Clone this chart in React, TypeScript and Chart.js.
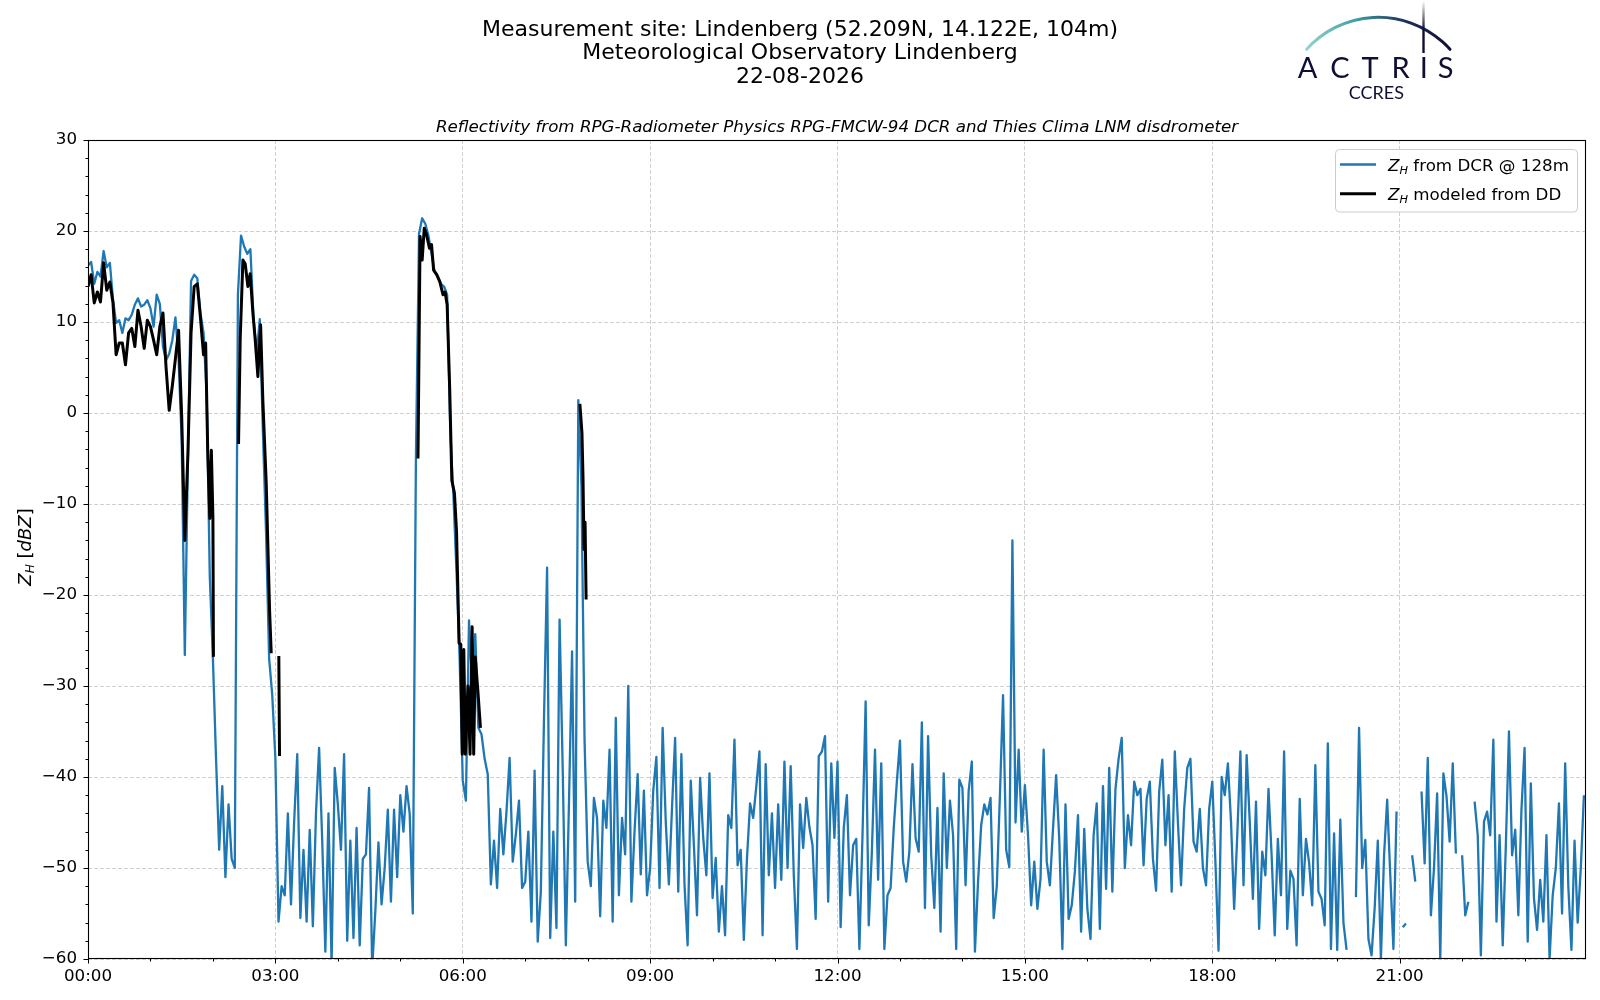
import React, { useEffect, useRef } from 'react';
import { Chart, registerables } from 'chart.js';

Chart.register(...registerables);

// ---------- data ----------
// DCR reflectivity @128m, one value every 3 minutes starting 00:00 (dBZ), null = no data
const DCR_STEP_MIN = 3;
const dcr00to03 = [
  16.2, 16.6, 14.2, 15.5, 15, 17.8, 16, 16.5, 12.5, 9.9, 10.2, 8.8, 10.4, 10.2, 10.8, 11.9, 12.6, 11.7, 11.9, 12.4,
  11.5, 9.5, 13, 12, 7.3, 5.8, 6.5, 8, 10.5, 6, -3, -26.6, -5, 14.5, 15.2, 14.8, 11, 8.8, 2, -18,
  -27, -38, -48, -41, -51, -43, -49, -50, 13, 19.5, 18.3, 17.5, 18, 10.5, 6.5, 10.3, -2, -13, -27, -31,
];
const dcr03to06 = [
  -38, -55.9, -52, -53, -44, -54, -45, -37.5, -55.5, -48, -55.9, -45.8, -56.4, -44, -36.8, -47, -59.2, -44, -60.5, -39,
  -43, -48, -37.5, -58, -47, -57.7, -45.6, -58.5, -49, -48.5, -41.2, -61, -54.8, -47.2, -54, -50, -43.6, -53.7, -43.6, -51,
  -42, -46, -41, -44, -55, -5, 19.7, 21.4, 20.8, 19.5, 17.5, 15.5, 15, 14.2, 13.9, 13, -2, -9, -17.5, -27,
];
const dcr06to09 = [
  -40.4, -42.6, -22.8, -30, -24.3, -34.6, -35.3, -38, -39.7, -51.8, -47, -52.2, -43.5, -48.5, -43.8, -37.9, -49.3, -46.3, -42.6, -52.2,
  -51.5, -46, -55.9, -39.3, -58.1, -52.6, -33.8, -17, -57.7, -46, -56.6, -22.7, -39, -58.5, -43, -26.2, -53.7, 1.4, -8, -36,
  -49.3, -52, -42.3, -44.5, -55.3, -42.6, -45.6, -37, -55.9, -33.5, -53, -44.5, -48.5, -30, -53.7, -46, -39.7, -50.7, -41.5, -53,
];
const dcr09to12 = [
  -50, -41.5, -37.8, -52.2, -34.6, -44.9, -51.8, -43.4, -35.7, -52.6, -37.5, -51.8, -58.5, -40.4, -47.4, -55.2, -40.1, -46.7, -50.8, -39.6,
  -53.3, -48.9, -57, -52, -57.4, -44.2, -45.6, -35.9, -49.7, -48, -57.9, -49, -42.9, -44.5, -41, -37.2, -57.4, -38.6, -50.8, -44,
  -52.2, -43, -51.3, -38.3, -50, -38.8, -50.8, -58.9, -43, -47.8, -42.3, -45.5, -47.5, -55.6, -37.7, -37.2, -35.5, -53.7, -38.5, -46.7,
];
const dcr12to15 = [
  -38.3, -56.5, -45.6, -42, -53, -47.5, -46.8, -58.9, -46.4, -31.7, -56.3, -48.2, -37, -51.3, -38.5, -58.9, -53, -52.2, -45.6, -40.5,
  -36, -49.3, -51.5, -48.2, -38.6, -46.7, -48.2, -34, -54.4, -35.5, -48.6, -54.4, -43.4, -57, -39.6, -50, -42.6, -46.4, -58.9, -40.3,
  -41.2, -51.9, -41.5, -38.3, -59.2, -51.5, -45.3, -43, -44.1, -42.3, -55.5, -52, -42, -31, -48, -49.9, -14, -45, -37, -46,
];
const dcr15to18 = [
  -40.9, -46.4, -54.1, -49.3, -54.5, -51.2, -37, -49.3, -51.9, -45.7, -39.8, -46.8, -58.9, -43, -55.6, -54.1, -50.4, -44.2, -57, -45.7,
  -54.5, -57.8, -46.4, -42.9, -56.7, -41, -52.3, -39, -52.6, -41.3, -38, -35.7, -50, -44.2, -47.5, -40.5, -42, -41.3, -49.7, -42.4,
  -40.5, -49, -52.5, -41.6, -38.1, -47.5, -42, -52.6, -37.2, -45, -51.9, -43.5, -39, -38, -47.1, -48.2, -43.5, -50, -51.9, -43.5,
];
const dcr18to21 = [
  -40.5, -49.3, -59.1, -40, -42, -38.5, -44.9, -54.5, -46.4, -37.2, -51.9, -37.6, -44.9, -53.4, -42.7, -56.7, -48.2, -50.8, -41.3, -48.6,
  -57.4, -46.8, -53, -37.2, -56.7, -50.3, -51.2, -58.5, -42.4, -53, -46.8, -49.4, -54.1, -38.7, -52.6, -53.4, -56.3, -36.3, -58.9, -46.2,
  -59, -44.7, -56, -59, null, null, -53.2, -34.6, -50, -46.9, -57.8, -59.6, -54.4, -47, -60, -48.6, -42.5, -50.8, -58.9, -43.8,
];
const dcr21to24 = [
  null, -56.5, -56.1, null, -48.6, -51.5, null, -41.6, -49.5, -37.9, -55.2, -50, -41.8, -60, -39.6, -42.1, -47.1, -38.5, -48.4, null,
  -48.6, -55.2, -53.7, null, -42.7, -46.4, -59.6, -44.9, -43.8, -46.4, -35.9, -55.9, -46.4, -58.5, -47.5, -35, -48.6, -45.8, -55.2, -43.6,
  -36.8, -58.1, -40.7, -53.3, -56.8, -51.3, -55.9, -46.4, -60, -53, -50, -42.9, -55, -38.5, -52, -59, -47, -56, -50, -42,
];

// Disdrometer-modelled reflectivity: times in minutes after 00:00, null = gap
const ddTimes = [
  0, 3, 6, 9, 12, 15, 18, 21, 24, 27, 30, 33, 36, 39, 42, 45, 48, 51, 54, 57,
  60, 63, 66, 69, 72, 75, 78, 81, 84, 87, 90, 93, 96, 99, 102, 105, 108, 111, 113, 115, 117, 118.5, 120, 120.5,
  121,
  144.6, 146.2, 148.8, 151, 153.6, 155.8, 158.4, 160.6, 163.2, 165.8, 168, 171.2, 174.4, 176,
  177,
  183.3, 184,
  185,
  317, 319, 321, 323, 325, 328, 330, 332, 335, 338, 341, 343, 345, 347.5, 349.5, 352, 354, 356.5, 358,
  359.5, 361, 362.5, 365, 367, 369, 370.5, 372, 374.5, 377,
  378,
  472.5, 474.5, 475.5, 476.5, 477.5, 478.5,
];
const ddValues = [
  13.9, 15.2, 12.1, 13.3, 12.2, 16.5, 13.5, 14.4, 12.1, 6.4, 7.7, 7.7, 5.3, 8.8, 9.3, 7.3, 11.3, 9.5, 7.1, 10.2,
  9.5, 8, 6.4, 9.5, 11, 5, 0.3, 3, 6, 9.1, -0.4, -14, -4.4, 8.8, 13.9, 14.2, 10.5, 6.4, 7.7, -4.1, -11.6, -4.1, -11.6, -26.8,
  null,
  -3.4, 8.1, 16.8, 16.4, 13.9, 15.3, 11, 8.1, 4, 9.7, 1.3, -7.7, -21.6, -26.4,
  null,
  -26.7, -37.7,
  null,
  -5, 19.4, 16.8, 20.3, 19.7, 18.1, 18.5, 15.7, 15.2, 14.4, 13, 13.3, 11.9, 2.5, -7.4, -8.8, -13, -25.3, -25.4,
  -37.5, -26, -37.5, -30, -37.5, -23.5, -37.5, -26.8, -30.5, -34.6,
  null,
  1, -2.2, -7, -15, -12, -20.5,
];

const xMajorTicks = [0, 180, 360, 540, 720, 900, 1080, 1260];
const xTickLabels = ['00:00', '03:00', '06:00', '09:00', '12:00', '15:00', '18:00', '21:00'];
const xMinorTicks = [60, 120, 240, 300, 420, 480, 600, 660, 780, 840, 960, 1020, 1140, 1200, 1320, 1380];
const yMajorTicks = [-60, -50, -40, -30, -20, -10, 0, 10, 20, 30];
const yMinorStep = 2;

const titleLines = [
  'Measurement site: Lindenberg (52.209N, 14.122E, 104m)',
  'Meteorological Observatory Lindenberg',
  '22-08-2026',
];
const subtitleText = 'Reflectivity from RPG-Radiometer Physics RPG-FMCW-94 DCR and Thies Clima LNM disdrometer';
const legendRows = [
  { color: '#1f77b4', width: 2.3, rest: ' from DCR @ 128m' },
  { color: '#000000', width: 3, rest: ' modeled from DD' },
];

// ---------- style ----------
const FONT = "'DejaVu Sans', sans-serif";
const BLUE = '#1f77b4';
const GRID = '#d0d0d0';

type Part = { t: string; it?: boolean; sub?: boolean };

function drawRich(ctx: CanvasRenderingContext2D, parts: Part[], x: number, y: number, size: number, align: 'left' | 'center') {
  const segs = parts.map((p) => {
    const s = p.sub ? size * 0.68 : size;
    const font = `${p.it ? 'italic ' : ''}${s}px ${FONT}`;
    ctx.font = font;
    return { t: p.t, font, w: ctx.measureText(p.t).width, dy: p.sub ? size * 0.18 : 0 };
  });
  const total = segs.reduce((a, s) => a + s.w, 0);
  let cx = align === 'center' ? x - total / 2 : x;
  ctx.textAlign = 'left';
  ctx.textBaseline = 'alphabetic';
  for (const s of segs) {
    ctx.font = s.font;
    ctx.fillText(s.t, cx, y + s.dy);
    cx += s.w;
  }
}

const decorPlugin = {
  id: 'decor',
  afterDraw(chart: any) {
    const { ctx, chartArea: a, scales } = chart;
    const xs = scales.x;
    const ys = scales.y;
    ctx.save();

    // frame
    ctx.strokeStyle = '#000';
    ctx.lineWidth = 1.1;
    const L = Math.round(a.left) + 0.5, R = Math.round(a.right) - 0.5;
    const T = Math.round(a.top) + 0.5, B = Math.round(a.bottom) - 0.5;
    ctx.strokeRect(L, T, R - L, B - T);

    // ticks
    ctx.lineWidth = 1;
    ctx.beginPath();
    for (const v of yMajorTicks) {
      const p = Math.round(ys.getPixelForValue(v)) + 0.5;
      ctx.moveTo(L - 5, p); ctx.lineTo(L, p);
    }
    for (let v = -60; v <= 30; v += yMinorStep) {
      if (v % 10 === 0) continue;
      const p = Math.round(ys.getPixelForValue(v)) + 0.5;
      ctx.moveTo(L - 3, p); ctx.lineTo(L, p);
    }
    for (const v of xMajorTicks) {
      const p = Math.round(xs.getPixelForValue(v)) + 0.5;
      ctx.moveTo(p, B); ctx.lineTo(p, B + 5);
    }
    for (const v of xMinorTicks) {
      const p = Math.round(xs.getPixelForValue(v)) + 0.5;
      ctx.moveTo(p, B); ctx.lineTo(p, B + 3);
    }
    ctx.stroke();

    // titles
    ctx.fillStyle = '#000';
    ctx.textAlign = 'center';
    ctx.textBaseline = 'alphabetic';
    ctx.font = `22px ${FONT}`;
    const base = [36, 59.3, 82.7];
    titleLines.forEach((t, i) => ctx.fillText(t, 800, base[i]));
    ctx.font = `italic 16.7px ${FONT}`;
    ctx.fillText(subtitleText, (a.left + a.right) / 2, 131.5);

    // y label
    ctx.save();
    ctx.translate(31, 547);
    ctx.rotate(-Math.PI / 2);
    drawRich(ctx, [{ t: 'Z', it: true }, { t: 'H', it: true, sub: true }, { t: ' [' }, { t: 'dBZ', it: true }, { t: ']' }], 0, 0, 18, 'center');
    ctx.restore();

    // legend
    const bx = 1335.5, by = 149.5, bw = 242, bh = 62.5, r = 4;
    ctx.beginPath();
    ctx.moveTo(bx + r, by);
    ctx.lineTo(bx + bw - r, by);
    ctx.quadraticCurveTo(bx + bw, by, bx + bw, by + r);
    ctx.lineTo(bx + bw, by + bh - r);
    ctx.quadraticCurveTo(bx + bw, by + bh, bx + bw - r, by + bh);
    ctx.lineTo(bx + r, by + bh);
    ctx.quadraticCurveTo(bx, by + bh, bx, by + bh - r);
    ctx.lineTo(bx, by + r);
    ctx.quadraticCurveTo(bx, by, bx + r, by);
    ctx.closePath();
    ctx.fillStyle = 'rgba(255,255,255,0.8)';
    ctx.fill();
    ctx.strokeStyle = '#cccccc';
    ctx.lineWidth = 1;
    ctx.stroke();
    const rowLineY = [164.5, 193.8];
    const rowBase = [170.7, 199.6];
    legendRows.forEach((row, i) => {
      ctx.strokeStyle = row.color;
      ctx.lineWidth = row.width;
      ctx.beginPath();
      ctx.moveTo(1340, rowLineY[i]);
      ctx.lineTo(1376, rowLineY[i]);
      ctx.stroke();
      ctx.fillStyle = '#000';
      drawRich(ctx, [{ t: 'Z', it: true }, { t: 'H', it: true, sub: true }, { t: row.rest }], 1388, rowBase[i], 16.7, 'left');
    });

    // ACTRIS logo
    const NAVY = '#0f0f35';
    const g = ctx.createLinearGradient(1306, 0, 1450, 0);
    g.addColorStop(0, '#8fd6cf');
    g.addColorStop(0.35, '#3c9fa3');
    g.addColorStop(0.7, '#1d2d57');
    g.addColorStop(1, NAVY);
    ctx.strokeStyle = g;
    ctx.lineWidth = 3;
    ctx.lineCap = 'round';
    ctx.beginPath();
    ctx.arc(1378.3, 113.6, 96.3, -2.41, -0.731, false);
    ctx.stroke();
    const gv = ctx.createLinearGradient(0, 1, 0, 30);
    gv.addColorStop(0, 'rgba(15,15,53,0)');
    gv.addColorStop(1, NAVY);
    ctx.strokeStyle = gv;
    ctx.lineWidth = 2.4;
    ctx.lineCap = 'butt';
    ctx.beginPath();
    ctx.moveTo(1423.5, 1);
    ctx.lineTo(1423.5, 53);
    ctx.stroke();
    ctx.fillStyle = NAVY;
    ctx.textAlign = 'center';
    ctx.font = `29px Lato, ${FONT}`;
    const letters = ['A', 'C', 'T', 'R', 'I', 'S'];
    const lx = [1307.5, 1340, 1370, 1400.7, 1423.8, 1445.7];
    letters.forEach((ch, i) => ctx.fillText(ch, lx[i], 78.3));
    ctx.font = `18px Lato, ${FONT}`;
    ctx.fillText('CCRES', 1376.3, 99);

    ctx.restore();
  },
};

export default function App() {
  const ref = useRef<HTMLCanvasElement>(null);
  useEffect(() => {
    document.body.style.margin = '0';
    const canvas = ref.current;
    if (!canvas) return;
    const dcrValues = [...dcr00to03, ...dcr03to06, ...dcr06to09, ...dcr09to12, ...dcr12to15, ...dcr15to18, ...dcr18to21, ...dcr21to24];
    const dcrPoints = dcrValues.map((v, i) => ({ x: i * DCR_STEP_MIN, y: v }));
    const ddPoints = ddTimes.map((t, i) => ({ x: t, y: ddValues[i] }));

    const chart = new Chart(canvas, {
      type: 'line',
      data: {
        datasets: [
          {
            label: 'Z_H from DCR @ 128m',
            data: dcrPoints as any,
            borderColor: BLUE,
            borderWidth: 2.3,
            pointRadius: 0,
            tension: 0,
            spanGaps: false,
            borderJoinStyle: 'round',
            order: 2,
          },
          {
            label: 'Z_H modeled from DD',
            data: ddPoints as any,
            borderColor: '#000000',
            borderWidth: 3,
            pointRadius: 0,
            tension: 0,
            spanGaps: false,
            borderJoinStyle: 'round',
            order: 1,
          },
        ],
      },
      options: {
        animation: false,
        responsive: false,
        events: [],
        layout: { padding: { top: 140, right: 14, left: 0, bottom: 0 } },
        plugins: {
          legend: { display: false },
          tooltip: { enabled: false },
          title: { display: false },
        },
        scales: {
          x: {
            type: 'linear',
            min: 0,
            max: 1439,
            afterBuildTicks: (s: any) => {
              s.ticks = xMajorTicks.map((value) => ({ value }));
            },
            afterFit: (s: any) => {
              s.height = 41;
            },
            ticks: {
              autoSkip: false,
              maxRotation: 0,
              padding: 8,
              color: '#000',
              font: { family: FONT, size: 16.7 },
              callback: (v: any) => {
                const i = xMajorTicks.indexOf(Number(v));
                return i >= 0 ? xTickLabels[i] : '';
              },
            },
            grid: { color: GRID, lineWidth: 1, drawTicks: false },
            border: { display: false, dash: [4, 2] },
          },
          y: {
            type: 'linear',
            min: -60,
            max: 30,
            afterBuildTicks: (s: any) => {
              s.ticks = yMajorTicks.map((value) => ({ value }));
            },
            afterFit: (s: any) => {
              s.width = 88;
            },
            ticks: {
              padding: 11,
              color: '#000',
              font: { family: FONT, size: 16.7 },
              callback: (v: any) => (Number(v) < 0 ? '\u2212' + Math.abs(Number(v)) : String(v)),
            },
            grid: { color: GRID, lineWidth: 1, drawTicks: false },
            border: { display: false, dash: [4, 2] },
          },
        },
      },
      plugins: [decorPlugin],
    });
    return () => chart.destroy();
  }, []);
  return (
    <div style={{ width: 1600, height: 1000 }}>
      <canvas ref={ref} width={1600} height={1000} style={{ display: 'block' }} />
    </div>
  );
}
